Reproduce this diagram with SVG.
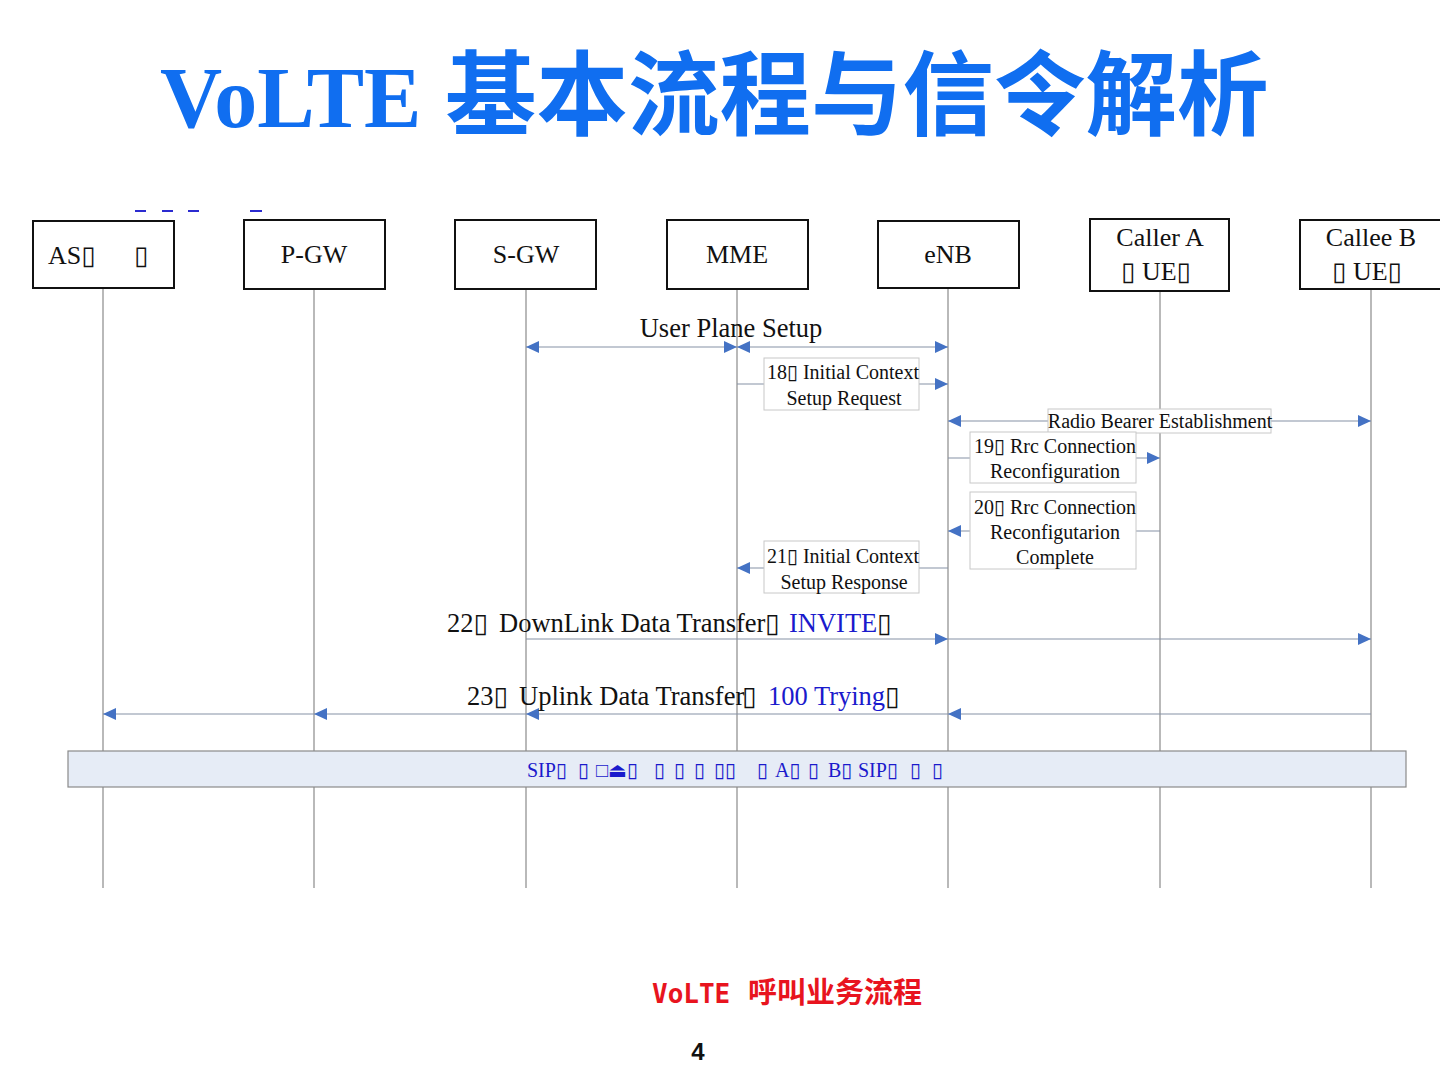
<svg xmlns="http://www.w3.org/2000/svg" width="1440" height="1080" viewBox="0 0 1440 1080">
<style>
.node rect{fill:#fff;stroke:#111;stroke-width:2}
.t{font-family:"Liberation Serif","DejaVu Sans",serif;fill:#111}
.nl{font-size:26px;text-anchor:middle}
.lbl{font-size:20px;text-anchor:middle}
.lb{fill:#fff;stroke:#c8c8c8;stroke-width:1}
.life{stroke:#8a8a8a;stroke-width:1.2}
.msg{stroke:#8592a6;stroke-width:1.2;fill:none}
.blue{fill:#1a1acc}
</style>
<defs>
<marker id="ah" markerUnits="userSpaceOnUse" markerWidth="14" markerHeight="14" refX="13" refY="7" orient="auto-start-reverse" viewBox="0 0 14 14">
<path d="M0,1 L13,7 L0,13 Z" fill="#4472C4"/>
</marker>
</defs>
<rect width="1440" height="1080" fill="#fff"/>
<text x="160" y="127" font-family="Liberation Serif,serif" font-weight="bold" font-size="86" fill="#106EF0">VoLTE<tspan x="445" y="128" font-family="Noto Sans CJK SC,sans-serif" font-size="91.5">基本流程与信令解析</tspan></text>
<g stroke="#2b2bd0" stroke-width="2">
<line x1="135" y1="211" x2="146" y2="211"/>
<line x1="162" y1="211" x2="173" y2="211"/>
<line x1="188" y1="211" x2="199" y2="211"/>
<line x1="250" y1="211" x2="262" y2="211"/>
</g>
<g id="lifelines">
<line class="life" x1="103" y1="289" x2="103" y2="888"/>
<line class="life" x1="314" y1="289" x2="314" y2="888"/>
<line class="life" x1="526" y1="289" x2="526" y2="888"/>
<line class="life" x1="737" y1="289" x2="737" y2="888"/>
<line class="life" x1="948" y1="289" x2="948" y2="888"/>
<line class="life" x1="1160" y1="291" x2="1160" y2="888"/>
<line class="life" x1="1371" y1="289" x2="1371" y2="888"/>
</g>
<g id="as" class="node"><rect x="33" y="221" width="141" height="67"/><text class="t" x="48" y="264" font-size="26">AS▯<tspan x="134">▯</tspan></text></g>
<g id="pgw" class="node"><rect x="244" y="220" width="141" height="69"/><text class="t nl" x="314" y="263">P-GW</text></g>
<g id="sgw" class="node"><rect x="455" y="220" width="141" height="69"/><text class="t nl" x="526" y="263">S-GW</text></g>
<g id="mme" class="node"><rect x="667" y="220" width="141" height="69"/><text class="t nl" x="737" y="263">MME</text></g>
<g id="enb" class="node"><rect x="878" y="221" width="141" height="67"/><text class="t nl" x="948" y="263">eNB</text></g>
<g id="callerA" class="node"><rect x="1090" y="219" width="139" height="72"/><text class="t nl" x="1160" y="246">Caller A</text><text class="t nl" x="1156" y="280">▯ UE▯</text></g>
<g id="calleeB" class="node"><rect x="1300" y="220" width="145" height="69"/><text class="t nl" x="1371" y="246">Callee B</text><text class="t nl" x="1367" y="280">▯ UE▯</text></g>
<g id="connectors">
<line class="msg" x1="526" y1="347" x2="737" y2="347" marker-start="url(#ah)" marker-end="url(#ah)"/>
<line class="msg" x1="737" y1="347" x2="948" y2="347" marker-start="url(#ah)" marker-end="url(#ah)"/>
<line class="msg" x1="737" y1="384" x2="948" y2="384" marker-end="url(#ah)"/>
<line class="msg" x1="948" y1="421" x2="1371" y2="421" marker-start="url(#ah)" marker-end="url(#ah)"/>
<line class="msg" x1="948" y1="458" x2="1160" y2="458" marker-end="url(#ah)"/>
<line class="msg" x1="1160" y1="531" x2="948" y2="531" marker-end="url(#ah)"/>
<line class="msg" x1="948" y1="568" x2="737" y2="568" marker-end="url(#ah)"/>
<line class="msg" x1="526" y1="639" x2="948" y2="639" marker-end="url(#ah)"/>
<line class="msg" x1="948" y1="639" x2="1371" y2="639" marker-end="url(#ah)"/>
<line class="msg" x1="1371" y1="714" x2="948" y2="714" marker-end="url(#ah)"/>
<line class="msg" x1="948" y1="714" x2="526" y2="714" marker-end="url(#ah)"/>
<line class="msg" x1="526" y1="714" x2="314" y2="714" marker-end="url(#ah)"/>
<line class="msg" x1="314" y1="714" x2="103" y2="714" marker-end="url(#ah)"/>
</g>
<g id="labels">
<text class="t" x="731" y="337" font-size="26.5" text-anchor="middle">User Plane Setup</text>
<rect class="lb" x="764" y="358" width="155" height="52"/>
<text class="t lbl" x="843" y="379">18▯ Initial Context</text>
<text class="t lbl" x="844" y="405">Setup Request</text>
<rect class="lb" x="1048" y="409" width="223" height="24"/>
<text class="t lbl" x="1160" y="428">Radio Bearer Establishment</text>
<rect class="lb" x="970" y="432" width="166" height="51"/>
<text class="t lbl" x="1055" y="453">19▯ Rrc Connection</text>
<text class="t lbl" x="1055" y="478">Reconfiguration</text>
<rect class="lb" x="970" y="492" width="166" height="77"/>
<text class="t lbl" x="1055" y="514">20▯ Rrc Connection</text>
<text class="t lbl" x="1055" y="539">Reconfigutarion</text>
<text class="t lbl" x="1055" y="564">Complete</text>
<rect class="lb" x="764" y="541" width="155" height="52"/>
<text class="t lbl" x="843" y="563">21▯ Initial Context</text>
<text class="t lbl" x="844" y="589">Setup Response</text>
<text class="t" x="447" y="632" font-size="26.5">22▯<tspan x="499">DownLink Data Transfer</tspan><tspan x="765">▯</tspan><tspan x="789" class="blue">INVITE</tspan><tspan x="877">▯</tspan></text>
<text class="t" x="467" y="705" font-size="26.5">23▯<tspan x="519">Uplink Data Transfer</tspan><tspan x="742">▯</tspan><tspan x="768" class="blue">100 Trying</tspan><tspan x="885">▯</tspan></text>
</g>
<g id="sipbar">
<rect x="68" y="751" width="1338" height="36" fill="#e6ecf6" stroke="#8a8a8a" stroke-width="1.2"/>
<text class="t blue" x="527" y="777" font-size="20">SIP▯<tspan x="578">▯</tspan><tspan x="596">□⏏▯</tspan><tspan x="654">▯</tspan><tspan x="674">▯</tspan><tspan x="694">▯</tspan><tspan x="714">▯▯</tspan><tspan x="757">▯</tspan><tspan x="775">A▯</tspan><tspan x="808">▯</tspan><tspan x="828">B▯</tspan><tspan x="858">SIP▯</tspan><tspan x="910">▯</tspan><tspan x="932">▯</tspan></text>
</g>
<text x="652" y="1003" font-family="DejaVu Sans Mono,Noto Sans CJK SC,monospace" font-weight="bold" font-size="26" fill="#e8141e">VoLTE<tspan x="748" font-family="Noto Sans CJK SC,sans-serif" font-size="29">呼叫业务流程</tspan></text>
<text x="698" y="1060" font-family="Liberation Sans,Arial,sans-serif" font-weight="bold" font-size="24" fill="#111" text-anchor="middle">4</text>
</svg>
